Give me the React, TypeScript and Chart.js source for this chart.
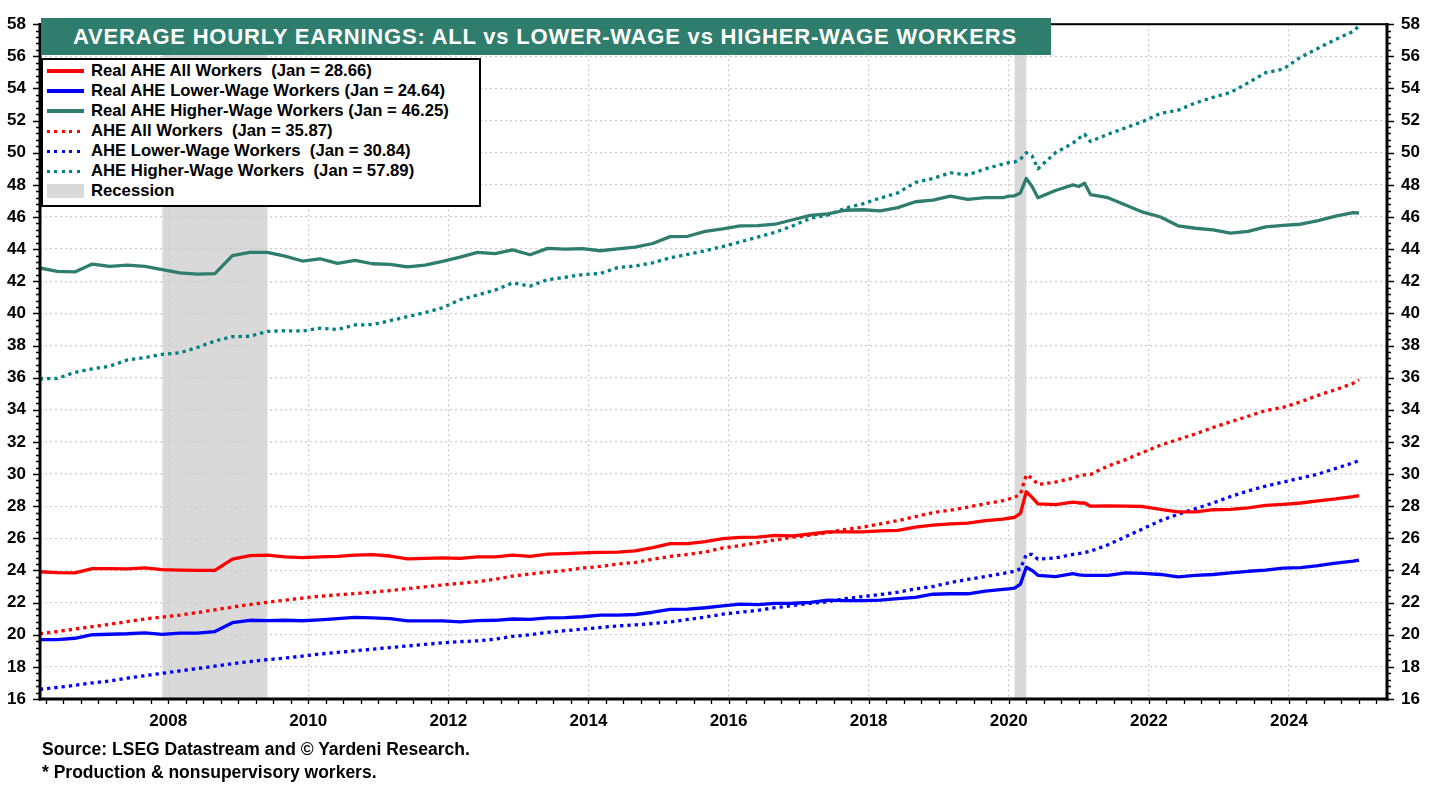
import React, { useEffect, useRef } from "react";
import { Chart, registerables } from "chart.js";

Chart.register(...registerables);

// ---------- DATA ----------
const dates = [
  "2006-03", "2006-06", "2006-09", "2006-12",
  "2007-03", "2007-06", "2007-09", "2007-12",
  "2008-03", "2008-06", "2008-09", "2008-12",
  "2009-03", "2009-06", "2009-09", "2009-12",
  "2010-03", "2010-06", "2010-09", "2010-12",
  "2011-03", "2011-06", "2011-09", "2011-12",
  "2012-03", "2012-06", "2012-09", "2012-12",
  "2013-03", "2013-06", "2013-09", "2013-12",
  "2014-03", "2014-06", "2014-09", "2014-12",
  "2015-03", "2015-06", "2015-09", "2015-12",
  "2016-03", "2016-06", "2016-09", "2016-12",
  "2017-03", "2017-06", "2017-09", "2017-12",
  "2018-03", "2018-06", "2018-09", "2018-12",
  "2019-03", "2019-06", "2019-09", "2019-12",
  "2020-01", "2020-02", "2020-03", "2020-04", "2020-05", "2020-06", "2020-09", "2020-12",
  "2021-01", "2021-02", "2021-03", "2021-06", "2021-09", "2021-12",
  "2022-03", "2022-06", "2022-09", "2022-12",
  "2023-03", "2023-06", "2023-09", "2023-12",
  "2024-03", "2024-06", "2024-09", "2024-12",
  "2025-01",
];

const realAll = [
  23.92, 23.86, 23.85, 24.12, 24.12, 24.10, 24.16, 24.05, 24.02, 24.00, 24.00, 24.70, 24.92,
  24.95, 24.85, 24.80, 24.85, 24.88, 24.95, 24.98, 24.90, 24.72, 24.75, 24.78, 24.75, 24.85,
  24.85,
  24.95, 24.88, 25.02, 25.05, 25.10, 25.12, 25.14, 25.22, 25.42, 25.67, 25.67, 25.80, 25.98,
  26.06, 26.08, 26.18, 26.15, 26.27, 26.40, 26.40, 26.40, 26.47, 26.50, 26.70, 26.82,
  26.90, 26.95, 27.10, 27.20, 27.25, 27.30, 27.55, 28.90, 28.55, 28.15, 28.10, 28.25, 28.20,
  28.20, 28.00, 28.02, 28.00, 27.98, 27.80, 27.65, 27.65, 27.78, 27.80, 27.90, 28.05, 28.12,
  28.20, 28.33, 28.45, 28.60, 28.66,
];

const realLower = [
  19.70, 19.70, 19.78, 20.00, 20.03, 20.06, 20.12, 20.02, 20.10, 20.10, 20.20, 20.75, 20.90,
  20.88, 20.90, 20.87, 20.93, 21.00, 21.08, 21.05, 21.00, 20.86, 20.86, 20.86, 20.80, 20.88,
  20.90,
  20.98, 20.95, 21.05, 21.07, 21.12, 21.22, 21.22, 21.26, 21.40, 21.58, 21.60, 21.68, 21.80,
  21.90, 21.88, 21.95, 21.96, 22.02, 22.15, 22.12, 22.12, 22.15, 22.25, 22.33, 22.52,
  22.55, 22.55, 22.72, 22.82, 22.86, 22.90, 23.15, 24.20, 24.00, 23.70, 23.62, 23.80, 23.72,
  23.70, 23.70, 23.70, 23.85, 23.82, 23.75, 23.60, 23.70, 23.75, 23.85, 23.95, 24.02, 24.15,
  24.18, 24.30, 24.45, 24.58, 24.64,
];

const realHigher = [
  42.83, 42.62, 42.58, 43.07, 42.93, 43.00, 42.93, 42.73, 42.52, 42.45, 42.48, 43.60, 43.80,
  43.80, 43.56, 43.26, 43.40, 43.11, 43.30, 43.09, 43.05, 42.89, 43.00, 43.24, 43.50, 43.80,
  43.72,
  43.95, 43.65, 44.05, 44.00, 44.03, 43.90, 44.02, 44.12, 44.35, 44.78, 44.80, 45.10, 45.26,
  45.45, 45.46, 45.55, 45.83, 46.10, 46.19, 46.42, 46.45, 46.38, 46.58, 46.95, 47.05,
  47.30, 47.10, 47.20, 47.20, 47.30, 47.32, 47.50, 48.40, 47.90, 47.20, 47.65, 48.00, 47.90,
  48.10, 47.40, 47.20, 46.75, 46.30, 46.00, 45.45, 45.30, 45.20, 45.00, 45.10, 45.38, 45.48,
  45.55, 45.78, 46.05, 46.27, 46.25,
];

const aheAll = [
  20.05, 20.20, 20.35, 20.50, 20.65, 20.82, 20.98, 21.10, 21.22, 21.38, 21.55, 21.72, 21.88,
  22.02, 22.15, 22.28, 22.40, 22.48, 22.56, 22.65, 22.75, 22.87, 22.98, 23.10, 23.20, 23.30,
  23.45,
  23.65, 23.78, 23.90, 24.00, 24.15, 24.25, 24.40, 24.50, 24.70, 24.88, 25.00, 25.15, 25.40,
  25.55, 25.73, 25.90, 26.07, 26.20, 26.35, 26.55, 26.70, 26.90, 27.10, 27.35, 27.60,
  27.75, 27.95, 28.15, 28.35, 28.45, 28.55, 28.75, 29.95, 29.75, 29.35, 29.50, 29.75, 29.90,
  29.95, 29.98, 30.50, 30.90, 31.35, 31.80, 32.15, 32.50, 32.90, 33.25, 33.60, 33.95, 34.15,
  34.50, 34.90, 35.25, 35.65, 35.87,
];

const aheLower = [
  16.60, 16.72, 16.85, 17.00, 17.12, 17.30, 17.45, 17.60, 17.75, 17.90, 18.05, 18.20, 18.33,
  18.45, 18.55, 18.67, 18.80, 18.90, 19.00, 19.10, 19.20, 19.30, 19.40, 19.50, 19.57, 19.62,
  19.72,
  19.90, 20.00, 20.15, 20.25, 20.35, 20.45, 20.55, 20.62, 20.70, 20.80, 20.95, 21.10, 21.28,
  21.40, 21.52, 21.68, 21.82, 21.95, 22.05, 22.25, 22.38, 22.50, 22.65, 22.85, 23.00,
  23.25, 23.45, 23.62, 23.82, 23.88, 23.95, 24.10, 25.00, 25.00, 24.70, 24.78, 25.00, 25.05,
  25.12, 25.20, 25.60, 26.10, 26.60, 27.10, 27.50, 27.85, 28.20, 28.60, 28.95, 29.25, 29.50,
  29.75, 30.00, 30.35, 30.70, 30.84,
];

const aheHigher = [
  35.93, 35.95, 36.33, 36.55, 36.72, 37.10, 37.25, 37.45, 37.55, 37.88, 38.28, 38.55, 38.58,
  38.88, 38.92, 38.90, 39.08, 39.00, 39.28, 39.30, 39.55, 39.80, 40.05, 40.35, 40.85, 41.15,
  41.45,
  41.90, 41.70, 42.10, 42.25, 42.42, 42.48, 42.85, 42.95, 43.15, 43.46, 43.67, 43.90, 44.16,
  44.45, 44.75, 45.05, 45.45, 45.92, 46.12, 46.55, 46.82, 47.18, 47.50, 48.15, 48.40,
  48.75, 48.62, 49.00, 49.30, 49.38, 49.42, 49.60, 50.00, 49.80, 49.00, 50.00, 50.60, 50.90,
  51.15, 50.70, 51.15, 51.55, 51.95, 52.45, 52.65, 53.10, 53.45, 53.75, 54.35, 54.98, 55.20,
  55.95, 56.50, 57.05, 57.55, 57.89,
];

const recessions = [
  ["2007-12", "2009-06"],
  ["2020-02", "2020-04"],
];

const xTickYears = [2008, 2010, 2012, 2014, 2016, 2018, 2020, 2022, 2024];
const yMin = 16;
const yMax = 58;
const yStep = 2;
const yMinorStep = 0.4;
const xMinorStep = 0.25;
const xMin = 2006.17;
const xMax = 2025.4;

const titleText = "AVERAGE HOURLY EARNINGS: ALL vs LOWER-WAGE vs HIGHER-WAGE WORKERS";
const footnotes = [
  "Source: LSEG Datastream and \u00a9 Yardeni Research.",
  "* Production & nonsupervisory workers.",
];

// ---------- STYLE ----------
const RED = "#ff0000";
const BLUE = "#0000ff";
const TEAL = "#2e7d6d";
const TEAL_DOT = "#008080";
const REC_GRAY = "#d9d9d9";
const FONT = "'Liberation Sans', Arial, Helvetica, sans-serif";

const toYear = (d: string) => {
  const [y, m] = d.split("-").map(Number);
  return y + (m - 1) / 12;
};

const series = [
  { label: "Real AHE All Workers  (Jan = 28.66)", values: realAll, color: RED, dotted: false },
  { label: "Real AHE Lower-Wage Workers (Jan = 24.64)", values: realLower, color: BLUE, dotted: false },
  { label: "Real AHE Higher-Wage Workers (Jan = 46.25)", values: realHigher, color: TEAL, dotted: false },
  { label: "AHE All Workers  (Jan = 35.87)", values: aheAll, color: RED, dotted: true },
  { label: "AHE Lower-Wage Workers  (Jan = 30.84)", values: aheLower, color: BLUE, dotted: true },
  { label: "AHE Higher-Wage Workers  (Jan = 57.89)", values: aheHigher, color: TEAL_DOT, dotted: true },
];

const decorPlugin = {
  id: "decor",
  beforeDraw(chart: any) {
    const { ctx, chartArea: a, scales } = chart;
    const xs = scales.x;
    ctx.save();
    ctx.fillStyle = REC_GRAY;
    for (const [s, e] of recessions) {
      const x0 = xs.getPixelForValue(toYear(s));
      const x1 = xs.getPixelForValue(toYear(e));
      ctx.fillRect(x0, a.top, x1 - x0, a.bottom - a.top);
    }
    ctx.restore();
  },
  afterDraw(chart: any) {
    const { ctx, chartArea: a, scales } = chart;
    const xs = scales.x;
    const ys = scales.y;
    ctx.save();
    ctx.strokeStyle = "#000";
    ctx.lineWidth = 1.3;
    ctx.beginPath();
    const nY = Math.round((yMax - yMin) / yMinorStep);
    const perMajor = Math.round(yStep / yMinorStep);
    for (let i = 0; i <= nY; i++) {
      const py = Math.round(ys.getPixelForValue(yMin + i * yMinorStep)) + 0.5;
      const len = i % perMajor === 0 ? 7 : 4;
      ctx.moveTo(a.left - len, py);
      ctx.lineTo(a.left, py);
      ctx.moveTo(a.right, py);
      ctx.lineTo(a.right + len, py);
    }
    const firstQ = Math.ceil(xMin / xMinorStep) * xMinorStep;
    for (let t = firstQ; t <= xMax + 1e-9; t += xMinorStep) {
      const px = Math.round(xs.getPixelForValue(t)) + 0.5;
      ctx.moveTo(px, a.bottom);
      ctx.lineTo(px, a.bottom + 5);
    }
    ctx.stroke();
    // frame
    ctx.fillStyle = "#000";
    ctx.fillRect(a.left - 1.5, a.top - 1, 3, a.bottom - a.top + 2.5);
    ctx.fillRect(a.right - 1.5, a.top - 1, 3, a.bottom - a.top + 2.5);
    ctx.fillRect(a.left - 1.5, a.bottom - 1.5, a.right - a.left + 3, 3);
    ctx.fillRect(a.left - 1.5, a.top - 1, a.right - a.left + 3, 2);
    ctx.restore();
  },
};

const tickFont = { family: FONT, size: 17, weight: "bold" as const };

export default function App() {
  const canvasRef = useRef<HTMLCanvasElement | null>(null);

  useEffect(() => {
    const canvas = canvasRef.current;
    if (!canvas) return;
    const datasets = series.map((s) => ({
      label: s.label,
      data: dates.map((d, i) => ({ x: toYear(d), y: s.values[i] })),
      borderColor: s.color,
      backgroundColor: s.color,
      borderWidth: 3.3,
      borderDash: s.dotted ? [3.3, 4] : [],
      borderCapStyle: "butt" as const,
      borderJoinStyle: "round" as const,
      pointRadius: 0,
      tension: 0,
      fill: false,
    }));
    const chart = new Chart(canvas, {
      type: "line",
      data: { datasets },
      options: {
        animation: false,
        responsive: false,
        devicePixelRatio: 1,
        events: [],
        layout: { padding: { top: 15, left: 0, right: 0, bottom: 0 } },
        plugins: { legend: { display: false }, tooltip: { enabled: false }, title: { display: false } },
        scales: {
          x: {
            type: "linear",
            position: "bottom",
            min: xMin,
            max: xMax,
            afterFit: (s: any) => {
              s.height = 86;
            },
            afterBuildTicks: (s: any) => {
              s.ticks = xTickYears.map((v) => ({ value: v }));
            },
            grid: { color: "#cccccc", lineWidth: 1.3, drawTicks: false },
            border: { display: false, dash: [2, 3] },
            ticks: {
              font: tickFont,
              color: "#000",
              padding: 12,
              autoSkip: false,
              maxRotation: 0,
              callback: (v: any) => String(Math.round(Number(v))),
            },
          },
          y: {
            type: "linear",
            position: "left",
            min: yMin,
            max: yMax,
            afterFit: (s: any) => {
              s.width = 40;
            },
            grid: { color: "#cccccc", lineWidth: 1.3, drawTicks: false },
            border: { display: false, dash: [2, 3] },
            ticks: { stepSize: yStep, font: tickFont, color: "#000", padding: 14, autoSkip: false },
          },
          y2: {
            type: "linear",
            position: "right",
            min: yMin,
            max: yMax,
            afterFit: (s: any) => {
              s.width = 52;
            },
            grid: { display: false, drawTicks: false },
            border: { display: false },
            ticks: { stepSize: yStep, font: tickFont, color: "#000", padding: 14, autoSkip: false },
          },
        },
      },
      plugins: [decorPlugin],
    });
    return () => chart.destroy();
  }, []);

  const legendRows = [
    ...series.map((s) => ({ label: s.label, color: s.color, kind: s.dotted ? "dot" : "line" })),
    { label: "Recession", color: REC_GRAY, kind: "box" },
  ];

  return (
    <div
      style={{
        position: "fixed",
        left: 0,
        top: 0,
        width: 1439,
        height: 785,
        background: "#fff",
        overflow: "hidden",
        fontFamily: FONT,
        fontWeight: "bold",
      }}
    >
      <canvas
        ref={canvasRef}
        width={1439}
        height={785}
        style={{ position: "absolute", left: 0, top: 0, width: 1439, height: 785 }}
      />
      <div
        style={{
          position: "absolute",
          left: 41,
          top: 18,
          width: 1010,
          height: 37,
          background: TEAL,
          color: "#fff",
          fontSize: 22,
          lineHeight: "37px",
          letterSpacing: 0.8,
          paddingLeft: 32,
          boxSizing: "border-box",
          whiteSpace: "pre",
        }}
      >
        {titleText}
      </div>
      <div
        style={{
          position: "absolute",
          left: 41,
          top: 58,
          width: 440,
          height: 149,
          border: "2px solid #000",
          background: "#fff",
          boxSizing: "border-box",
        }}
      >
        {legendRows.map((r, i) => (
          <div
            key={i}
            style={{
              position: "absolute",
              left: 0,
              top: 1 + i * 20,
              height: 20,
              width: 430,
            }}
          >
            {r.kind === "line" && (
              <div style={{ position: "absolute", left: 4, top: 8, width: 37, height: 4, background: r.color }} />
            )}
            {r.kind === "dot" && (
              <div
                style={{
                  position: "absolute",
                  left: 4,
                  top: 8.5,
                  width: 37,
                  height: 3,
                  background: `repeating-linear-gradient(to right, ${r.color} 0px, ${r.color} 3px, transparent 3px, transparent 7.5px)`,
                }}
              />
            )}
            {r.kind === "box" && (
              <div style={{ position: "absolute", left: 4, top: 3, width: 37, height: 14, background: r.color }} />
            )}
            <div
              style={{
                position: "absolute",
                left: 48,
                top: 0,
                fontSize: 16.7,
                lineHeight: "20px",
                color: "#000",
                whiteSpace: "pre",
              }}
            >
              {r.label}
            </div>
          </div>
        ))}
      </div>
      {footnotes.map((f, i) => (
        <div
          key={i}
          style={{
            position: "absolute",
            left: 42,
            top: 739 + i * 23,
            fontSize: 17.5,
            lineHeight: "20px",
            color: "#000",
            whiteSpace: "pre",
          }}
        >
          {f}
        </div>
      ))}
    </div>
  );
}
